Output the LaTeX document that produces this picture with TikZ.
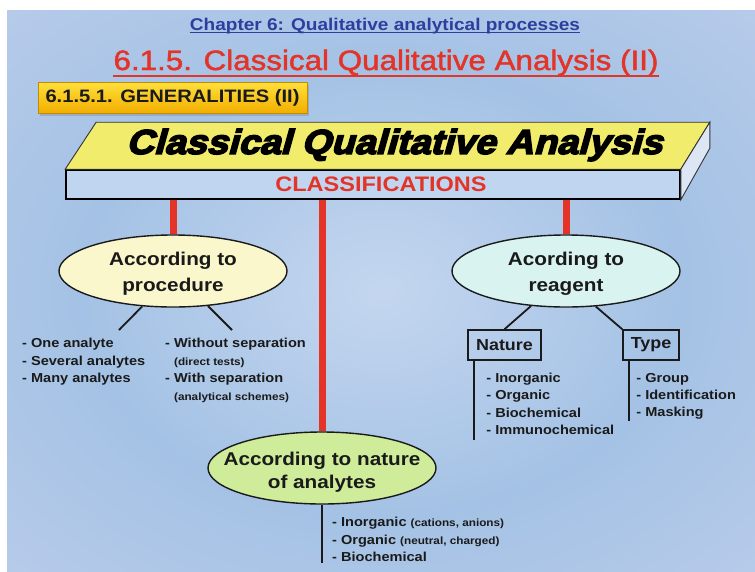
\documentclass[tikz,border=0pt]{standalone}
\usepackage{fontspec}
\setmainfont[FakeStretch=1.12]{Liberation Sans}
\newfontfamily\heavyfont[FakeStretch=1.1,FakeBold=4.5,FakeSlant=0.28]{Liberation Sans}
\newfontfamily\titlefont[FakeStretch=1.12,FakeBold=1.6]{Liberation Sans}
\usetikzlibrary{positioning, shapes.geometric, shadows, calc}

\definecolor{chapblue}{RGB}{46,62,158}
\definecolor{titlered}{RGB}{228,52,40}
\definecolor{plankyellow}{RGB}{242,236,108}
\definecolor{plankblue}{RGB}{192,214,240}
\definecolor{sideblue}{RGB}{220,230,245}
\definecolor{procfill}{RGB}{250,247,204}
\definecolor{reagfill}{RGB}{216,243,240}
\definecolor{natfill}{RGB}{206,236,154}
\definecolor{genyellow}{RGB}{255,224,60}
\definecolor{genorange}{RGB}{242,174,0}
\definecolor{ink}{RGB}{26,26,26}
\definecolor{bgcenter}{RGB}{196,214,239}
\definecolor{bgblue}{RGB}{164,194,229}
\definecolor{bgmid}{RGB}{186,204,234}
\definecolor{bglav}{RGB}{222,224,243}
\definecolor{bgpink}{RGB}{247,230,246}

\pgfdeclareradialshading{slidebg}{\pgfpoint{0bp}{0bp}}{%
  color(0bp)=(bgcenter); color(20bp)=(bgblue); color(38bp)=(bgmid);
  color(54bp)=(bglav); color(72bp)=(bgpink)}

\newcommand\smallnote[1]{{\fontsize{10.5}{17.5}\selectfont #1}}

\begin{document}
\begin{tikzpicture}[x=1pt, y=-1pt,
  branch/.style={ellipse, draw=ink, line width=1.4pt, minimum width=228pt,
                 minimum height=72pt, inner sep=0pt, align=center, text=ink,
                 font=\fontsize{18.5}{26}\selectfont\bfseries},
  tag/.style={draw=ink, line width=1.6pt, minimum height=30pt, inner sep=0pt,
              text=ink, font=\fontsize{16}{19}\selectfont\bfseries},
  items/.style={anchor=north west, align=left, inner sep=0pt, text=ink,
                font=\fontsize{13}{17.5}\selectfont\bfseries},
  redlink/.style={draw=titlered, line width=7pt},
  link/.style={draw=ink, line width=1.8pt},
  face/.style={draw=black!80, line width=0.9pt},
]

% Slide background
\useasboundingbox (0,0) rectangle (755,571);
\fill[white] (0,0) rectangle (755,571);
\shade[shading=slidebg] (7,10) rectangle (755,571);

% Headings
\node[anchor=base, inner sep=0pt, text=chapblue,
      font=\fontsize{17}{20}\selectfont\bfseries] (chap) at (385,30)
  {Chapter 6: Qualitative analytical processes};
\draw[chapblue, line width=1.6pt] ([yshift=-2.5pt]chap.base west) -- ([yshift=-2.5pt]chap.base east);

\node[anchor=base, inner sep=0pt, text=titlered,
      font=\titlefont\fontsize{28}{32}\selectfont] (title) at (386,70)
  {6.1.5. Classical Qualitative Analysis (II)};
\draw[titlered, line width=2.8pt] ([yshift=-6pt]title.base west) -- ([yshift=-6pt]title.base east);

\node[minimum width=269pt, minimum height=31pt, inner sep=0pt,
      top color=genyellow, bottom color=genorange, draw=genorange!80!black, line width=0.4pt,
      drop shadow={shadow xshift=2pt, shadow yshift=-2.5pt, opacity=0.35},
      font=\fontsize{18}{20}\selectfont\bfseries, text=ink] (gen) at (172.5,97.5)
  {6.1.5.1. GENERALITIES (II)};

% Plank
\node[draw=black, line width=1.6pt, fill=plankblue, minimum width=614pt,
      minimum height=29pt, inner sep=0pt, text=titlered,
      font=\fontsize{21}{24}\selectfont\bfseries] (front) at (373,184.5)
  {\hspace*{16pt}CLASSIFICATIONS};
\filldraw[face, fill=plankyellow] (front.north west) -- ++(31,-47)
  -- ($(front.north east)+(29,-47)$) -- (front.north east) -- cycle;
\filldraw[face, fill=sideblue] (front.north east) -- ++(29,-47) -- ++(0,26)
  -- (front.south east) -- cycle;
\node[font=\heavyfont\fontsize{34.5}{38}\selectfont\bfseries, text=black] (cqa)
  at (394,145) {Classical Qualitative Analysis};

% Classification branches
\node[branch, fill=procfill] (proc) at (173,271)
  {\rule{0pt}{19.5pt}According to\\procedure};
\node[branch, fill=reagfill] (reag) at (566,271)
  {\rule{0pt}{19.5pt}Acording to\\reagent};
\node[branch, fill=natfill, inner xsep=-20pt,
      font=\fontsize{18.5}{23}\selectfont\bfseries] (nat) at (322,468)
  {\rule{0pt}{21.5pt}According to nature\\of analytes};

\draw[redlink] (front.south -| proc.north) -- (proc.north);
\draw[redlink] (front.south -| nat.north) -- (nat.north);
\draw[redlink] (front.south -| reag.north) -- (reag.north);

% According to procedure
\coordinate (pl) at (119,330);
\coordinate (pr) at (232,330);
\draw[link] (proc.229) -- (pl);
\draw[link] (proc.315) -- (pr);
\node[items] (plist) at (22,338)
  {- One analyte\\- Several analytes\\- Many analytes};
\node[items] (prlist) at (165,338)
  {- Without separation\\\hphantom{- }\smallnote{(direct tests)}\\- With separation\\\hphantom{- }\smallnote{(analytical schemes)}};

% According to reagent
\node[tag, minimum width=73pt] (nature) at (504.5,345) {Nature};
\node[tag, minimum width=56pt] (type) at (651,345) {Type};
\draw[link] (reag.225) -- (nature.north);
\draw[link] (reag.310) -- (type.north west);
\draw[link] ([xshift=7pt]nature.south west) -- ++(0,79);
\draw[link] ([xshift=7pt]type.south west) -- ++(0,60);
\node[items, below right=12pt and 19pt of nature.south west] (nlist)
  {- Inorganic\\- Organic\\- Biochemical\\- Immunochemical};
\node[items, below right=12pt and 14pt of type.south west, font=\fontsize{13}{17}\selectfont\bfseries] (tlist)
  {- Group\\- Identification\\- Masking};

% According to nature of analytes
\draw[link] (nat.south) -- ++(0,58);
\node[items] (alist) at (332,517)
  {- Inorganic \smallnote{(cations, anions)}\\- Organic \smallnote{(neutral, charged)}\\- Biochemical};

\end{tikzpicture}
\end{document}
